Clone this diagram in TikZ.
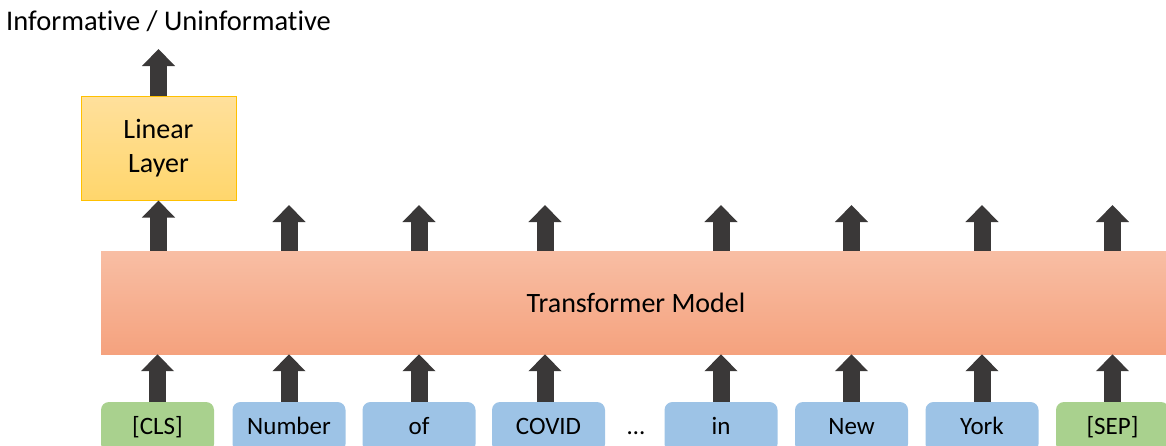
\documentclass[tikz,border=0pt]{standalone}
\usepackage{fontspec}
\setmainfont[RawFeature={-liga}]{Carlito}
\usetikzlibrary{arrows.meta}
\definecolor{arr}{HTML}{3A3838}
\definecolor{tokgreen}{HTML}{A9D18E}
\definecolor{tokblue}{HTML}{9DC3E6}
\definecolor{lintop}{HTML}{FFE09C}
\definecolor{linbot}{HTML}{FFD66C}
\definecolor{linborder}{HTML}{FFC000}
\definecolor{tftop}{HTML}{F8BEA4}
\definecolor{tfbot}{HTML}{F5A27E}
\begin{document}
\begin{tikzpicture}[x=1pt,y=-1pt,
  tok/.style={rounded corners=8pt, minimum width=113pt, minimum height=50pt,
    inner sep=0pt, text height=14pt, text depth=0pt,
    font=\fontsize{25}{30}\selectfont, text=black},
  clsbox/.style={tok, fill=tokgreen},
  wordbox/.style={tok, fill=tokblue},
  barrow/.style={line width=17pt, draw=arr, -{Triangle[width=32pt,length=17pt]}},
  big/.style={font=\fontsize{28}{34}\selectfont}
]
\useasboundingbox (0,0) rectangle (1166,445);
\clip (0,0) rectangle (1166,445);

% title
\node[font=\fontsize{28.5}{34}\selectfont, anchor=west, inner sep=0pt] (title) at (6,21) {Informative / Uninformative};

% linear layer
\node[big, draw=linborder, line width=1pt, top color=lintop, bottom color=linbot,
  minimum width=155pt, minimum height=104pt, align=center, inner sep=0pt]
  (lin) at (158.5,148) {Linear\\Layer};

% transformer
\node[big, top color=tftop, bottom color=tfbot, minimum width=1070pt,
  minimum height=103pt, inner sep=0pt] (tf) at (636,302.5) {Transformer Model};

% tokens
\node[clsbox]  (t1) at (157.5,427) {[CLS]};
\node[wordbox] (t2) at (289,427) {Number};
\node[wordbox] (t3) at (419,427) {of};
\node[wordbox] (t4) at (548.5,427) {COVID};
\node[tok] (dots) at (636,427) {…};
\node[wordbox] (t5) at (721,427) {in};
\node[wordbox] (t6) at (851.5,427) {New};
\node[wordbox] (t7) at (982,427) {York};
\node[clsbox]  (t8) at (1112.5,427) {[SEP]};

% output ends
\coordinate (top) at (158.5,49);
\coordinate (o2) at (289,205);
\coordinate (o3) at (419,205);
\coordinate (o4) at (545,205);
\coordinate (o5) at (721,205);
\coordinate (o6) at (851.5,205);
\coordinate (o7) at (982,205);
\coordinate (o8) at (1112.5,205);

% arrows tokens -> transformer
\foreach \t in {t1,t2,t3,t5,t6,t7,t8}
  \draw[barrow] (\t.north) -- (\t.north |- tf.south);
\draw[barrow] (t4.north -| o4) -- (o4 |- tf.south);

% arrows transformer -> outputs
\draw[barrow] (tf.north -| lin.south) -- (lin.south);
\foreach \o in {o2,o3,o4,o5,o6,o7,o8}
  \draw[barrow] (\o |- tf.north) -- (\o);

% linear -> title
\draw[barrow] (lin.north) -- (top);
\end{tikzpicture}
\end{document}
